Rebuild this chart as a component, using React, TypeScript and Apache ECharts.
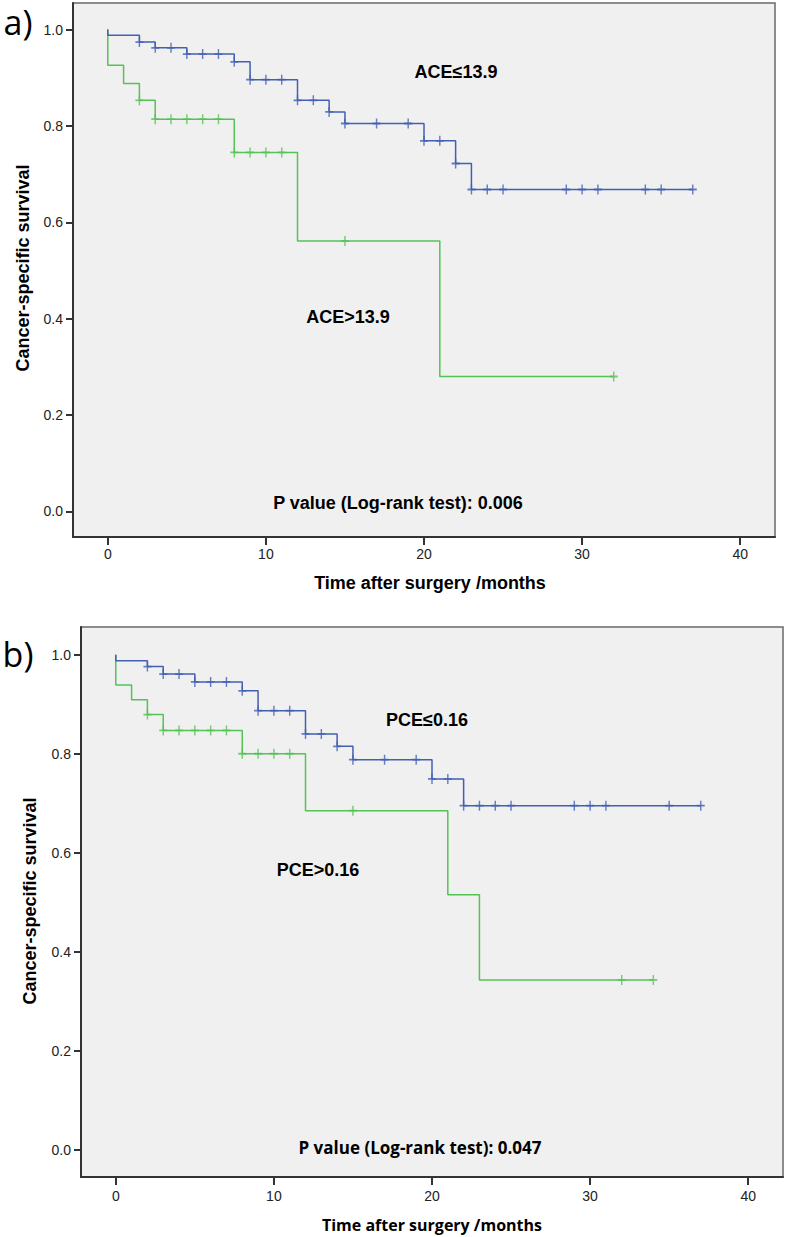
import { useEffect, useRef } from "react";
import * as echarts from "echarts";

// ---- data ----
// panel a: ACE <= 13.9 (blue) / ACE > 13.9 (green)
const aLowTimes = [0, 0, 2, 3, 5, 8, 9, 12, 14, 15, 20, 22, 23];
const aLowSurv = [1, 0.988, 0.974, 0.962, 0.949, 0.933, 0.896, 0.853, 0.829, 0.805, 0.769, 0.722, 0.668];
const aLowCensor = [2, 3, 4, 5, 6, 7, 8, 9, 10, 11, 12, 13, 14, 15, 17, 19, 20, 21, 22, 23, 24, 25, 29, 30, 31, 34, 35, 37];

const aHighTimes = [0, 0, 1, 2, 3, 8, 12, 21];
const aHighSurv = [1, 0.926, 0.888, 0.853, 0.814, 0.745, 0.561, 0.28];
const aHighCensor = [2, 3, 4, 5, 6, 7, 8, 9, 10, 11, 15, 32];

// panel b: PCE <= 0.16 (blue) / PCE > 0.16 (green)
const bLowTimes = [0, 0, 2, 3, 5, 8, 9, 12, 14, 15, 20, 22];
const bLowSurv = [1, 0.988, 0.976, 0.961, 0.945, 0.927, 0.887, 0.84, 0.815, 0.788, 0.749, 0.695];
const bLowCensor = [2, 3, 4, 5, 6, 7, 8, 9, 10, 11, 12, 13, 14, 15, 17, 19, 20, 21, 22, 23, 24, 25, 29, 30, 31, 35, 37];

const bHighTimes = [0, 0, 1, 2, 3, 8, 12, 21, 23];
const bHighSurv = [1, 0.939, 0.909, 0.879, 0.847, 0.8, 0.685, 0.515, 0.343];
const bHighCensor = [2, 3, 4, 5, 6, 7, 8, 9, 10, 11, 15, 32, 34];

const xTicks = [0, 10, 20, 30, 40];
const yTicks = [0, 0.2, 0.4, 0.6, 0.8, 1.0];

const BLUE = "#4260b2";
const GREEN = "#55c255";
const SANS = '"Liberation Sans", Arial, sans-serif';
const OPEN = '"Open Sans", "Liberation Sans", sans-serif';
const PLUS = "path://M0,5L10,5M5,0L5,10";

// survival value of a step curve at time t
function stepAt(times: number[], surv: number[], t: number) {
  let v = surv[0];
  times.forEach((ti, i) => {
    if (ti <= t) v = surv[i];
  });
  return v;
}

function curve(times: number[], surv: number[], censor: number[]) {
  const pts = times.map((t, i) => [t, surv[i]]);
  pts.push([Math.max(...censor), surv[surv.length - 1]]);
  return pts;
}

function groupSeries(idx: number, times: number[], surv: number[], censor: number[], color: string) {
  return [
    {
      type: "line" as const,
      xAxisIndex: idx,
      yAxisIndex: idx,
      step: "end" as const,
      showSymbol: false,
      data: curve(times, surv, censor),
      lineStyle: { color, width: 1.5 },
      z: 3,
    },
    {
      type: "scatter" as const,
      xAxisIndex: idx,
      yAxisIndex: idx,
      symbol: PLUS,
      symbolSize: [8, 10],
      data: censor.map((t) => [t, stepAt(times, surv, t)]),
      itemStyle: { color: "none", borderColor: color, borderWidth: 1.6 },
      z: 4,
    },
  ];
}

function xAxisCfg(idx: number, margin: number) {
  return {
    type: "value" as const,
    gridIndex: idx,
    min: -2.2,
    max: 42.2,
    position: "bottom" as const,
    axisLine: { show: true, onZero: false, lineStyle: { color: "#333", width: 2 } },
    axisTick: { show: true, length: 8, customValues: xTicks, lineStyle: { color: "#333", width: 2 } },
    axisLabel: { customValues: xTicks, margin, fontSize: 14, color: "#222", fontFamily: SANS },
    splitLine: { show: false },
  };
}

function yAxisCfg(idx: number, min: number, max: number) {
  return {
    type: "value" as const,
    gridIndex: idx,
    min,
    max,
    axisLine: { show: true, onZero: false, lineStyle: { color: "#333", width: 2 } },
    axisTick: { show: true, length: 7, customValues: yTicks, lineStyle: { color: "#333", width: 2 } },
    axisLabel: {
      customValues: yTicks,
      margin: 10,
      fontSize: 14,
      color: "#222",
      fontFamily: SANS,
      formatter: (v: number) => v.toFixed(1),
    },
    splitLine: { show: false },
  };
}

function label(text: string, x: number, y: number, size: number, family: string, weight = "bold", rotation = 0) {
  return {
    type: "text" as const,
    x,
    y,
    rotation,
    style: {
      text,
      fill: "#000",
      fontSize: size,
      fontWeight: weight,
      fontFamily: family,
      align: "center",
      verticalAlign: "middle",
      textAlign: "center",
      textVerticalAlign: "middle",
    },
  };
}

export default function App() {
  const ref = useRef<HTMLDivElement>(null);

  useEffect(() => {
    if (!ref.current) return;
    const chart = echarts.init(ref.current, undefined, { renderer: "svg" });

    const gridStyle = {
      show: true,
      backgroundColor: "#f0f0f0",
      borderColor: "#6a6a6a",
      borderWidth: 1.5,
    };

    chart.setOption({
      animation: false,
      grid: [
        { left: 73, top: 3, width: 702, height: 534, ...gridStyle },
        { left: 81, top: 627, width: 702, height: 550, ...gridStyle },
      ],
      xAxis: [xAxisCfg(0, 10), xAxisCfg(1, 12)],
      yAxis: [yAxisCfg(0, -0.053, 1.055), yAxisCfg(1, -0.055, 1.056)],
      series: [
        ...groupSeries(0, aHighTimes, aHighSurv, aHighCensor, GREEN),
        ...groupSeries(0, aLowTimes, aLowSurv, aLowCensor, BLUE),
        ...groupSeries(1, bHighTimes, bHighSurv, bHighCensor, GREEN),
        ...groupSeries(1, bLowTimes, bLowSurv, bLowCensor, BLUE),
      ],
      graphic: [
        label("a)", 18, 22, 34, OPEN, "normal"),
        label("b)", 18, 654, 34, OPEN, "normal"),
        // panel a
        label("ACE≤13.9", 456, 72, 18, SANS),
        label("ACE>13.9", 348, 317, 18, SANS),
        label("P value (Log-rank test): 0.006", 398, 503, 18, SANS),
        label("Time after surgery /months", 430, 583, 18, SANS),
        label("Cancer-specific survival", 23, 268, 18, SANS, "bold", Math.PI / 2),
        // panel b
        label("PCE≤0.16", 427, 720, 18, SANS),
        label("PCE>0.16", 318, 870, 18, SANS),
        label("P value (Log-rank test): 0.047", 420, 1147, 17, OPEN),
        label("Time after surgery /months", 432, 1225, 16, OPEN),
        label("Cancer-specific survival", 30, 901, 18, SANS, "bold", Math.PI / 2),
      ],
    });

    return () => chart.dispose();
  }, []);

  return (
    <div
      ref={ref}
      style={{ position: "absolute", left: 0, top: 0, width: 787, height: 1237, background: "#fff" }}
    />
  );
}
